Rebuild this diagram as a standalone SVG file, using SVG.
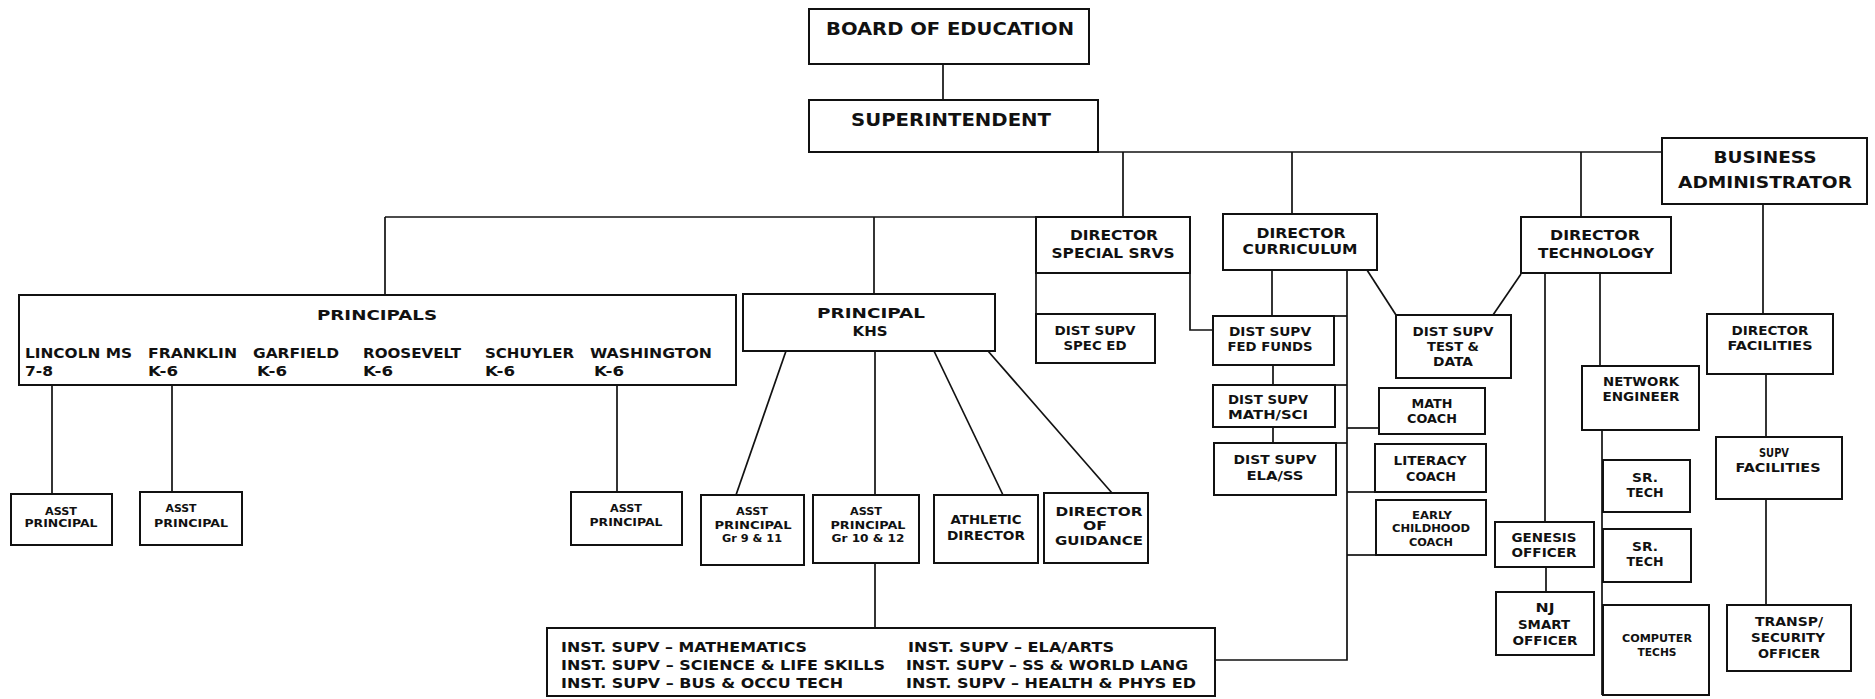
<svg xmlns="http://www.w3.org/2000/svg" width="1875" height="699" viewBox="0 0 1875 699">
<style>
rect.b{fill:#fff;stroke:#111;stroke-width:2}
#connectors line,#connectors polyline{stroke:#111;stroke-width:1.7;fill:none}
text{font-family:"DejaVu Sans","Liberation Sans",sans-serif;font-weight:bold;fill:#111;text-anchor:middle}
.f18{font-size:18px}.f16{font-size:16px}.f14{font-size:14px}.f13{font-size:13px}.f12{font-size:12px}.f10{font-size:10.5px}
text.l{text-anchor:start}
</style>
<rect width="1875" height="699" fill="#fff"/>
<g id="connectors">
<line x1="943" y1="64" x2="943" y2="100"/>
<line x1="1098" y1="152" x2="1662" y2="152"/>
<line x1="1123" y1="152" x2="1123" y2="217"/>
<line x1="1292" y1="152" x2="1292" y2="214"/>
<line x1="1581" y1="152" x2="1581" y2="217"/>
<line x1="385" y1="217" x2="1036" y2="217"/>
<line x1="385" y1="217" x2="385" y2="295"/>
<line x1="874" y1="217" x2="874" y2="294"/>
<line x1="52" y1="385" x2="52" y2="494"/>
<line x1="172" y1="385" x2="172" y2="492"/>
<line x1="617" y1="385" x2="617" y2="492"/>
<line x1="786" y1="351" x2="736" y2="495"/>
<line x1="875" y1="351" x2="875" y2="495"/>
<line x1="934" y1="351" x2="1003" y2="495"/>
<line x1="988" y1="351" x2="1112" y2="493"/>
<line x1="875" y1="563" x2="875" y2="628"/>
<line x1="1036" y1="273" x2="1036" y2="314"/>
<polyline points="1190,273 1190,330 1213,330"/>
<line x1="1272" y1="270" x2="1272" y2="316"/>
<line x1="1273" y1="365" x2="1273" y2="385"/>
<line x1="1273" y1="427" x2="1273" y2="443"/>
<polyline points="1347,270 1347,660 1215,660"/>
<line x1="1334" y1="316" x2="1347" y2="316"/>
<line x1="1335" y1="385" x2="1347" y2="385"/>
<line x1="1336" y1="443" x2="1347" y2="443"/>
<line x1="1347" y1="428" x2="1379" y2="428"/>
<line x1="1347" y1="492" x2="1375" y2="492"/>
<line x1="1347" y1="555" x2="1376" y2="555"/>
<line x1="1367" y1="270" x2="1396" y2="315"/>
<line x1="1521" y1="274" x2="1493" y2="315"/>
<line x1="1545" y1="273" x2="1545" y2="522"/>
<line x1="1546" y1="567" x2="1546" y2="592"/>
<line x1="1600" y1="273" x2="1600" y2="366"/>
<line x1="1602" y1="430" x2="1602" y2="695"/>
<line x1="1763" y1="204" x2="1763" y2="314"/>
<line x1="1766" y1="374" x2="1766" y2="437"/>
<line x1="1766" y1="499" x2="1766" y2="605"/>
</g>
<g id="board"><rect class="b" x="809" y="9" width="280" height="55"/><text class="f18" x="950" y="35" textLength="248" lengthAdjust="spacingAndGlyphs">BOARD OF EDUCATION</text></g>
<g id="superintendent"><rect class="b" x="809" y="100" width="289" height="52"/><text class="f18" x="951" y="126" textLength="200" lengthAdjust="spacingAndGlyphs">SUPERINTENDENT</text></g>
<g id="business-admin"><rect class="b" x="1662" y="138" width="205" height="66"/><text class="f16" x="1765" y="163" textLength="103" lengthAdjust="spacingAndGlyphs">BUSINESS</text><text class="f16" x="1765" y="188" textLength="174" lengthAdjust="spacingAndGlyphs">ADMINISTRATOR</text></g>
<g id="dir-special"><rect class="b" x="1036" y="217" width="154" height="56"/><text class="f14" x="1114" y="240" textLength="88" lengthAdjust="spacingAndGlyphs">DIRECTOR</text><text class="f14" x="1113" y="258" textLength="123" lengthAdjust="spacingAndGlyphs">SPECIAL SRVS</text></g>
<g id="dir-curriculum"><rect class="b" x="1223" y="214" width="154" height="56"/><text class="f14" x="1301" y="238" textLength="89" lengthAdjust="spacingAndGlyphs">DIRECTOR</text><text class="f14" x="1300" y="254" textLength="115" lengthAdjust="spacingAndGlyphs">CURRICULUM</text></g>
<g id="dir-technology"><rect class="b" x="1521" y="217" width="150" height="56"/><text class="f14" x="1595" y="240" textLength="90" lengthAdjust="spacingAndGlyphs">DIRECTOR</text><text class="f14" x="1596" y="258" textLength="116" lengthAdjust="spacingAndGlyphs">TECHNOLOGY</text></g>
<g id="principals"><rect class="b" x="19" y="295" width="717" height="90"/><text class="f14" x="377" y="320" textLength="120" lengthAdjust="spacingAndGlyphs">PRINCIPALS</text>
<text class="f14 l" x="25" y="358" textLength="107" lengthAdjust="spacingAndGlyphs">LINCOLN MS</text><text class="f14 l" x="25" y="376" textLength="28" lengthAdjust="spacingAndGlyphs">7-8</text>
<text class="f14 l" x="148" y="358" textLength="89" lengthAdjust="spacingAndGlyphs">FRANKLIN</text><text class="f14 l" x="148" y="376" textLength="30" lengthAdjust="spacingAndGlyphs">K-6</text>
<text class="f14 l" x="253" y="358" textLength="86" lengthAdjust="spacingAndGlyphs">GARFIELD</text><text class="f14 l" x="257" y="376" textLength="30" lengthAdjust="spacingAndGlyphs">K-6</text>
<text class="f14 l" x="363" y="358" textLength="98" lengthAdjust="spacingAndGlyphs">ROOSEVELT</text><text class="f14 l" x="363" y="376" textLength="30" lengthAdjust="spacingAndGlyphs">K-6</text>
<text class="f14 l" x="485" y="358" textLength="89" lengthAdjust="spacingAndGlyphs">SCHUYLER</text><text class="f14 l" x="485" y="376" textLength="30" lengthAdjust="spacingAndGlyphs">K-6</text>
<text class="f14 l" x="590" y="358" textLength="122" lengthAdjust="spacingAndGlyphs">WASHINGTON</text><text class="f14 l" x="594" y="376" textLength="30" lengthAdjust="spacingAndGlyphs">K-6</text></g>
<g id="principal-khs"><rect class="b" x="743" y="294" width="252" height="57"/><text class="f14" x="871" y="318" textLength="108" lengthAdjust="spacingAndGlyphs">PRINCIPAL</text><text class="f14" x="870" y="336" textLength="35" lengthAdjust="spacingAndGlyphs">KHS</text></g>
<g id="asst-lincoln"><rect class="b" x="11" y="494" width="101" height="51"/><text class="f10" x="61" y="515" textLength="32" lengthAdjust="spacingAndGlyphs">ASST</text><text class="f10" x="61" y="527" textLength="73" lengthAdjust="spacingAndGlyphs">PRINCIPAL</text></g>
<g id="asst-franklin"><rect class="b" x="140" y="492" width="102" height="53"/><text class="f10" x="181" y="512" textLength="31" lengthAdjust="spacingAndGlyphs">ASST</text><text class="f10" x="191" y="527" textLength="74" lengthAdjust="spacingAndGlyphs">PRINCIPAL</text></g>
<g id="asst-washington"><rect class="b" x="571" y="492" width="111" height="53"/><text class="f10" x="626" y="512" textLength="32" lengthAdjust="spacingAndGlyphs">ASST</text><text class="f10" x="626" y="526" textLength="73" lengthAdjust="spacingAndGlyphs">PRINCIPAL</text></g>
<g id="asst-gr9-11"><rect class="b" x="701" y="495" width="103" height="70"/><text class="f10" x="752" y="515" textLength="32" lengthAdjust="spacingAndGlyphs">ASST</text><text class="f10" x="753" y="529" textLength="77" lengthAdjust="spacingAndGlyphs">PRINCIPAL</text><text class="f10" x="752" y="542" textLength="60" lengthAdjust="spacingAndGlyphs">Gr 9 &amp; 11</text></g>
<g id="asst-gr10-12"><rect class="b" x="813" y="495" width="106" height="68"/><text class="f10" x="866" y="515" textLength="32" lengthAdjust="spacingAndGlyphs">ASST</text><text class="f10" x="868" y="529" textLength="75" lengthAdjust="spacingAndGlyphs">PRINCIPAL</text><text class="f10" x="868" y="542" textLength="73" lengthAdjust="spacingAndGlyphs">Gr 10 &amp; 12</text></g>
<g id="athletic-director"><rect class="b" x="934" y="495" width="104" height="68"/><text class="f13" x="986" y="524" textLength="71" lengthAdjust="spacingAndGlyphs">ATHLETIC</text><text class="f13" x="986" y="540" textLength="78" lengthAdjust="spacingAndGlyphs">DIRECTOR</text></g>
<g id="dir-guidance"><rect class="b" x="1044" y="493" width="104" height="70"/><text class="f13" x="1099" y="516" textLength="87" lengthAdjust="spacingAndGlyphs">DIRECTOR</text><text class="f13" x="1095" y="530" textLength="24" lengthAdjust="spacingAndGlyphs">OF</text><text class="f13" x="1099" y="545" textLength="88" lengthAdjust="spacingAndGlyphs">GUIDANCE</text></g>
<g id="inst-supv"><rect class="b" x="547" y="628" width="668" height="68"/>
<text class="f14 l" x="561" y="652" textLength="246" lengthAdjust="spacingAndGlyphs">INST. SUPV – MATHEMATICS</text>
<text class="f14 l" x="561" y="670" textLength="324" lengthAdjust="spacingAndGlyphs">INST. SUPV – SCIENCE &amp; LIFE SKILLS</text>
<text class="f14 l" x="561" y="688" textLength="282" lengthAdjust="spacingAndGlyphs">INST. SUPV – BUS &amp; OCCU TECH</text>
<text class="f14 l" x="908" y="652" textLength="206" lengthAdjust="spacingAndGlyphs">INST. SUPV – ELA/ARTS</text>
<text class="f14 l" x="906" y="670" textLength="282" lengthAdjust="spacingAndGlyphs">INST. SUPV – SS &amp; WORLD LANG</text>
<text class="f14 l" x="906" y="688" textLength="290" lengthAdjust="spacingAndGlyphs">INST. SUPV – HEALTH &amp; PHYS ED</text></g>
<g id="dist-spec-ed"><rect class="b" x="1036" y="314" width="119" height="49"/><text class="f12" x="1095" y="335" textLength="81" lengthAdjust="spacingAndGlyphs">DIST SUPV</text><text class="f12" x="1095" y="350" textLength="63" lengthAdjust="spacingAndGlyphs">SPEC ED</text></g>
<g id="dist-fed-funds"><rect class="b" x="1213" y="316" width="121" height="49"/><text class="f12" x="1270" y="336" textLength="82" lengthAdjust="spacingAndGlyphs">DIST SUPV</text><text class="f12" x="1270" y="351" textLength="85" lengthAdjust="spacingAndGlyphs">FED FUNDS</text></g>
<g id="dist-math-sci"><rect class="b" x="1213" y="385" width="122" height="42"/><text class="f12" x="1268" y="404" textLength="80" lengthAdjust="spacingAndGlyphs">DIST SUPV</text><text class="f12" x="1268" y="419" textLength="80" lengthAdjust="spacingAndGlyphs">MATH/SCI</text></g>
<g id="dist-ela-ss"><rect class="b" x="1214" y="443" width="122" height="52"/><text class="f12" x="1275" y="464" textLength="83" lengthAdjust="spacingAndGlyphs">DIST SUPV</text><text class="f12" x="1275" y="480" textLength="57" lengthAdjust="spacingAndGlyphs">ELA/SS</text></g>
<g id="dist-test-data"><rect class="b" x="1396" y="315" width="115" height="63"/><text class="f12" x="1453" y="336" textLength="81" lengthAdjust="spacingAndGlyphs">DIST SUPV</text><text class="f12" x="1453" y="351" textLength="52" lengthAdjust="spacingAndGlyphs">TEST &amp;</text><text class="f12" x="1453" y="366" textLength="40" lengthAdjust="spacingAndGlyphs">DATA</text></g>
<g id="math-coach"><rect class="b" x="1379" y="388" width="106" height="46"/><text class="f12" x="1432" y="408" textLength="41" lengthAdjust="spacingAndGlyphs">MATH</text><text class="f12" x="1432" y="423" textLength="50" lengthAdjust="spacingAndGlyphs">COACH</text></g>
<g id="literacy-coach"><rect class="b" x="1375" y="444" width="111" height="48"/><text class="f12" x="1430" y="465" textLength="73" lengthAdjust="spacingAndGlyphs">LITERACY</text><text class="f12" x="1431" y="481" textLength="50" lengthAdjust="spacingAndGlyphs">COACH</text></g>
<g id="early-childhood-coach"><rect class="b" x="1376" y="500" width="110" height="55"/><text class="f10" x="1432" y="519" textLength="40" lengthAdjust="spacingAndGlyphs">EARLY</text><text class="f10" x="1431" y="532" textLength="78" lengthAdjust="spacingAndGlyphs">CHILDHOOD</text><text class="f10" x="1431" y="546" textLength="44" lengthAdjust="spacingAndGlyphs">COACH</text></g>
<g id="network-engineer"><rect class="b" x="1582" y="366" width="117" height="64"/><text class="f12" x="1641" y="386" textLength="76" lengthAdjust="spacingAndGlyphs">NETWORK</text><text class="f12" x="1641" y="401" textLength="77" lengthAdjust="spacingAndGlyphs">ENGINEER</text></g>
<g id="sr-tech-1"><rect class="b" x="1603" y="460" width="87" height="52"/><text class="f12" x="1645" y="482" textLength="26" lengthAdjust="spacingAndGlyphs">SR.</text><text class="f12" x="1645" y="497" textLength="37" lengthAdjust="spacingAndGlyphs">TECH</text></g>
<g id="sr-tech-2"><rect class="b" x="1603" y="529" width="88" height="53"/><text class="f12" x="1645" y="551" textLength="26" lengthAdjust="spacingAndGlyphs">SR.</text><text class="f12" x="1645" y="566" textLength="37" lengthAdjust="spacingAndGlyphs">TECH</text></g>
<g id="computer-techs"><rect class="b" x="1603" y="605" width="106" height="90"/><text class="f10" x="1657" y="642" textLength="70" lengthAdjust="spacingAndGlyphs">COMPUTER</text><text class="f10" x="1657" y="656" textLength="39" lengthAdjust="spacingAndGlyphs">TECHS</text></g>
<g id="genesis-officer"><rect class="b" x="1495" y="522" width="99" height="45"/><text class="f12" x="1544" y="542" textLength="65" lengthAdjust="spacingAndGlyphs">GENESIS</text><text class="f12" x="1544" y="557" textLength="65" lengthAdjust="spacingAndGlyphs">OFFICER</text></g>
<g id="nj-smart-officer"><rect class="b" x="1496" y="592" width="98" height="63"/><text class="f12" x="1545" y="612" textLength="19" lengthAdjust="spacingAndGlyphs">NJ</text><text class="f12" x="1544" y="629" textLength="52" lengthAdjust="spacingAndGlyphs">SMART</text><text class="f12" x="1545" y="645" textLength="65" lengthAdjust="spacingAndGlyphs">OFFICER</text></g>
<g id="dir-facilities"><rect class="b" x="1707" y="314" width="126" height="60"/><text class="f12" x="1770" y="335" textLength="77" lengthAdjust="spacingAndGlyphs">DIRECTOR</text><text class="f12" x="1770" y="350" textLength="85" lengthAdjust="spacingAndGlyphs">FACILITIES</text></g>
<g id="supv-facilities"><rect class="b" x="1716" y="437" width="126" height="62"/><text class="f12" x="1774" y="457" textLength="30" lengthAdjust="spacingAndGlyphs">SUPV</text><text class="f12" x="1778" y="472" textLength="85" lengthAdjust="spacingAndGlyphs">FACILITIES</text></g>
<g id="transp-security"><rect class="b" x="1727" y="605" width="124" height="66"/><text class="f12" x="1789" y="626" textLength="68" lengthAdjust="spacingAndGlyphs">TRANSP/</text><text class="f12" x="1788" y="642" textLength="74" lengthAdjust="spacingAndGlyphs">SECURITY</text><text class="f12" x="1789" y="658" textLength="62" lengthAdjust="spacingAndGlyphs">OFFICER</text></g>
</svg>
